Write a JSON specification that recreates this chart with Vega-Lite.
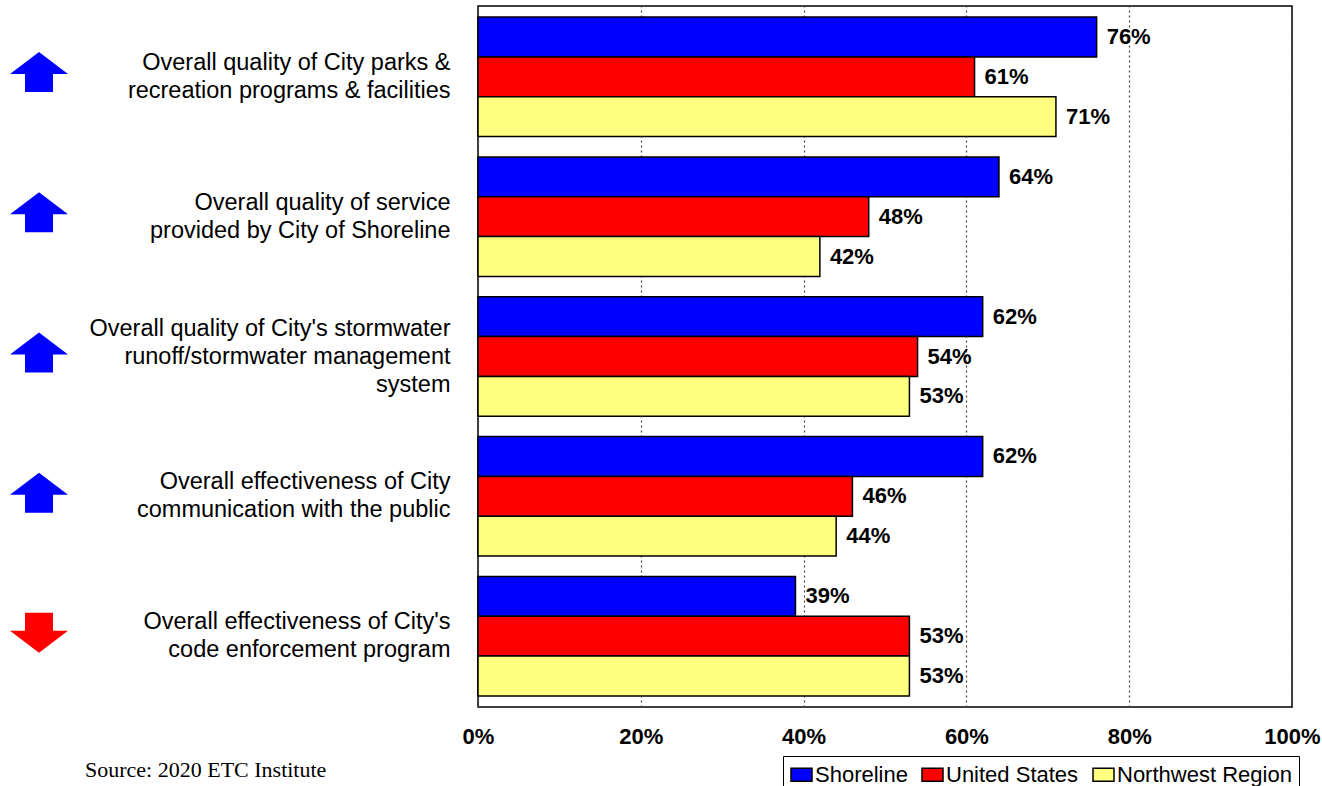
{
  "$schema": "https://vega.github.io/schema/vega-lite/v6.json",
  "padding": {"left": 0, "top": 5, "right": 0, "bottom": 0},
  "background": "white",
  "datasets": {
    "bars": [
      {"item": "Overall quality of City parks &\nrecreation programs & facilities", "series": "Shoreline", "value": 0.76},
      {"item": "Overall quality of City parks &\nrecreation programs & facilities", "series": "United States", "value": 0.61},
      {"item": "Overall quality of City parks &\nrecreation programs & facilities", "series": "Northwest Region", "value": 0.71},
      {"item": "Overall quality of service\nprovided by City of Shoreline", "series": "Shoreline", "value": 0.64},
      {"item": "Overall quality of service\nprovided by City of Shoreline", "series": "United States", "value": 0.48},
      {"item": "Overall quality of service\nprovided by City of Shoreline", "series": "Northwest Region", "value": 0.42},
      {"item": "Overall quality of City's stormwater\nrunoff/stormwater management\nsystem", "series": "Shoreline", "value": 0.62},
      {"item": "Overall quality of City's stormwater\nrunoff/stormwater management\nsystem", "series": "United States", "value": 0.54},
      {"item": "Overall quality of City's stormwater\nrunoff/stormwater management\nsystem", "series": "Northwest Region", "value": 0.53},
      {"item": "Overall effectiveness of City\ncommunication with the public", "series": "Shoreline", "value": 0.62},
      {"item": "Overall effectiveness of City\ncommunication with the public", "series": "United States", "value": 0.46},
      {"item": "Overall effectiveness of City\ncommunication with the public", "series": "Northwest Region", "value": 0.44},
      {"item": "Overall effectiveness of City's\ncode enforcement program", "series": "Shoreline", "value": 0.39},
      {"item": "Overall effectiveness of City's\ncode enforcement program", "series": "United States", "value": 0.53},
      {"item": "Overall effectiveness of City's\ncode enforcement program", "series": "Northwest Region", "value": 0.53}
    ],
    "trends": [
      {"item": "Overall quality of City parks &\nrecreation programs & facilities", "trend": "up"},
      {"item": "Overall quality of service\nprovided by City of Shoreline", "trend": "up"},
      {"item": "Overall quality of City's stormwater\nrunoff/stormwater management\nsystem", "trend": "up"},
      {"item": "Overall effectiveness of City\ncommunication with the public", "trend": "up"},
      {"item": "Overall effectiveness of City's\ncode enforcement program", "trend": "down"}
    ]
  },
  "title": {
    "text": "Source: 2020 ETC Institute",
    "orient": "bottom",
    "anchor": "start",
    "font": "Liberation Serif",
    "fontSize": 22,
    "fontWeight": "normal",
    "color": "black",
    "dx": 85,
    "dy": -34,
    "offset": 0
  },
  "spacing": 10,
  "resolve": {"scale": {"color": "independent", "y": "independent"}},
  "hconcat": [
    {
      "width": 78,
      "height": 701,
      "view": {"stroke": null},
      "data": {"name": "trends"},
      "mark": {"type": "point", "filled": true, "opacity": 1, "strokeWidth": 0},
      "encoding": {
        "y": {
          "field": "item", "type": "nominal", "sort": null, "axis": null,
          "scale": {"paddingInner": 0.145, "paddingOuter": 0.079}
        },
        "shape": {
          "field": "trend", "type": "nominal", "legend": null,
          "scale": {
            "domain": ["up", "down"],
            "range": [
              "M0,-0.83L1,-0.071L0.483,-0.071L0.483,0.55L-0.483,0.55L-0.483,-0.071L-1,-0.071Z",
              "M0,0.55L1,-0.209L0.483,-0.209L0.483,-0.83L-0.483,-0.83L-0.483,-0.209L-1,-0.209Z"
            ]
          }
        },
        "color": {
          "field": "trend", "type": "nominal", "legend": null,
          "scale": {"domain": ["up", "down"], "range": ["#0000FF", "#FF0000"]}
        },
        "size": {"value": 3364}
      }
    },
    {
      "width": 814,
      "height": 701,
      "data": {"name": "bars"},
      "encoding": {
        "y": {
          "field": "item", "type": "nominal", "sort": null,
          "scale": {"paddingInner": 0.145, "paddingOuter": 0.079},
          "axis": {
            "title": null,
            "ticks": false,
            "domain": false,
            "labelExpr": "split(datum.label, '\\n')",
            "labelFont": "Liberation Sans",
            "labelFontSize": 23.5,
            "labelColor": "black",
            "labelLineHeight": 28,
            "labelPadding": 28,
            "labelAlign": "right",
            "labelOffset": {"condition": {"test": "length(split(datum.value, '\\n')) > 2", "value": -28}, "value": -14},
            "labelLimit": 0
          }
        },
        "yOffset": {
          "field": "series", "type": "nominal",
          "scale": {"domain": ["Shoreline", "United States", "Northwest Region"], "paddingInner": 0, "paddingOuter": 0}
        },
        "x": {
          "field": "value", "type": "quantitative",
          "scale": {"domain": [0, 1], "nice": false, "zero": true},
          "axis": {
            "title": null,
            "format": ".0%",
            "values": [0, 0.2, 0.4, 0.6, 0.8, 1],
            "ticks": false,
            "domain": false,
            "grid": true,
            "gridColor": "#444444",
            "gridDash": [2, 3],
            "gridWidth": 1.2,
            "labelFont": "Liberation Sans",
            "labelFontSize": 22,
            "labelFontWeight": "bold",
            "labelColor": "black",
            "labelPadding": 19,
            "labelFlush": false,
            "labelOverlap": false
          }
        }
      },
      "layer": [
        {
          "mark": {"type": "bar", "stroke": "black", "strokeWidth": 1.5, "opacity": 1},
          "encoding": {
            "color": {
              "field": "series", "type": "nominal",
              "scale": {"domain": ["Shoreline", "United States", "Northwest Region"], "range": ["#0000FF", "#FF0000", "#FFFF80"]},
              "legend": {
                "title": null,
                "orient": "none",
                "direction": "horizontal",
                "legendX": 305,
                "legendY": 750,
                "columns": 3,
                "symbolType": "M-1,-0.62H1V0.62H-1Z",
                "symbolSize": 441,
                "symbolStrokeColor": "black",
                "symbolStrokeWidth": 1.5,
                "symbolOpacity": 1,
                "labelFont": "Liberation Sans",
                "labelFontSize": 22,
                "labelColor": "black",
                "labelOffset": 2,
                "columnPadding": 11,
                "padding": 7,
                "strokeColor": "black",
                "fillColor": "white",
                "labelLimit": 0
              }
            }
          }
        },
        {
          "mark": {"type": "text", "align": "left", "baseline": "middle", "dx": 10, "font": "Liberation Sans", "fontSize": 22, "fontWeight": "bold", "color": "black"},
          "encoding": {
            "text": {"field": "value", "type": "quantitative", "format": ".0%"}
          }
        }
      ]
    }
  ],
  "config": {
    "view": {"stroke": "black", "strokeWidth": 1.5},
    "axis": {"gridOpacity": 1}
  }
}
